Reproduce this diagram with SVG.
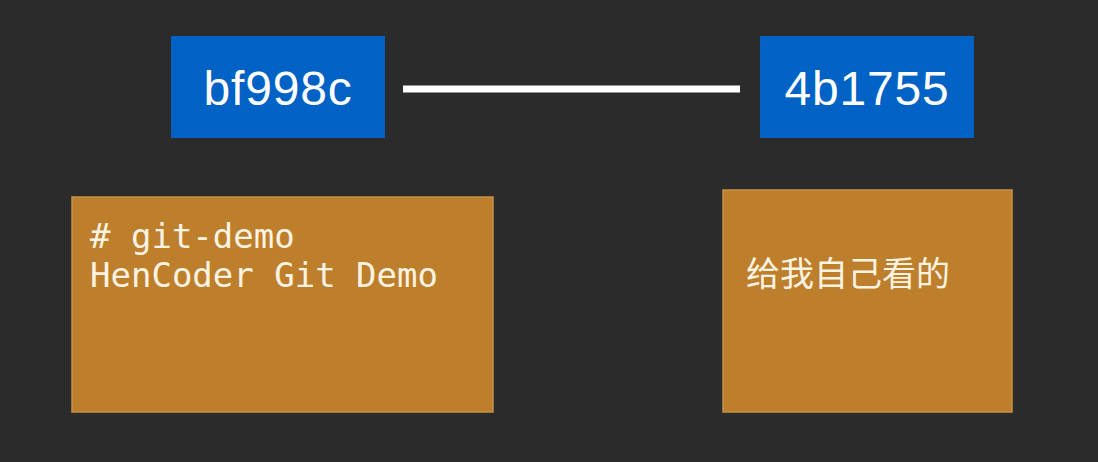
<svg xmlns="http://www.w3.org/2000/svg" width="1098" height="462" viewBox="0 0 1098 462">
<style>
.commit{fill:#0062c4}
.commit-text{font-family:"Liberation Sans",Arial,sans-serif;font-size:48px;letter-spacing:0.8px;fill:#ffffff;text-anchor:middle}
.content{fill:#bd7f2b;stroke:#c9914a;stroke-width:1.5}
.mono{font-family:"DejaVu Sans Mono","Liberation Mono",monospace;font-size:34px;fill:#fdf3e2}
.cjk{font-family:"Noto Sans CJK SC","Noto Sans",sans-serif;font-size:34px;fill:#fdf3e2}
</style>
<rect width="1098" height="462" fill="#2b2b2b"/>
<g id="connectors">
<line x1="403" y1="89" x2="740" y2="89" stroke="#ffffff" stroke-width="7"/>
</g>
<g id="commit-bf998c">
<rect class="commit" x="171" y="36" width="214" height="102"/>
<text class="commit-text" x="278" y="105">bf998c</text>
</g>
<g id="commit-4b1755">
<rect class="commit" x="760" y="36" width="214" height="102"/>
<text class="commit-text" x="867" y="105">4b1755</text>
</g>
<g id="content-1">
<rect class="content" x="72" y="197" width="421" height="215"/>
<text class="mono" x="90" y="248"># git-demo</text>
<text class="mono" x="90" y="287">HenCoder Git Demo</text>
</g>
<g id="content-2">
<rect class="content" x="723" y="190" width="289" height="222"/>
<text class="cjk" x="746" y="286">给我自己看的</text>
</g>
</svg>
